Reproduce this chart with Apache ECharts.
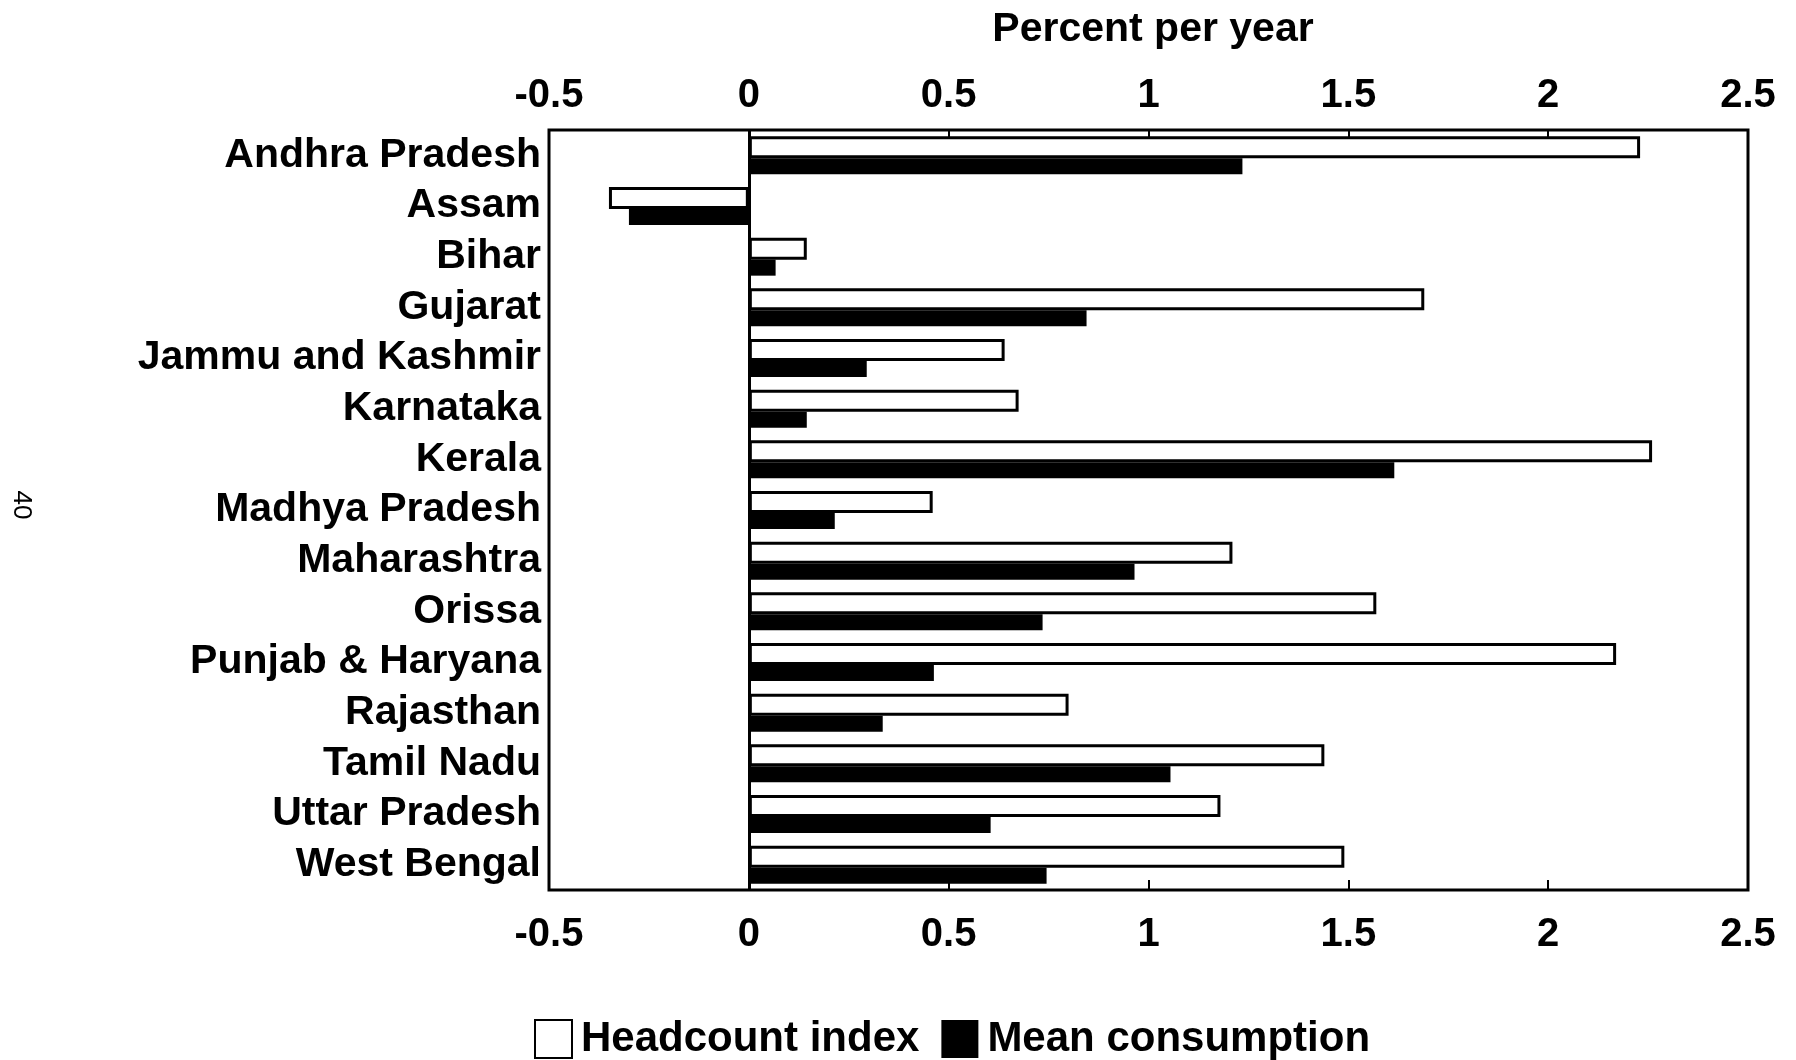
<!DOCTYPE html>
<html>
<head>
<meta charset="utf-8">
<script src="https://cdn.jsdelivr.net/npm/echarts@6/dist/echarts.min.js"></script>
<style>
html,body{margin:0;padding:0;background:#fff;}
#chart{width:1796px;height:1060px;}
</style>
</head>
<body>
<div id="chart"></div>
<script>
const categories = ['Andhra Pradesh','Assam','Bihar','Gujarat','Jammu and Kashmir','Karnataka','Kerala','Madhya Pradesh','Maharashtra','Orissa','Punjab & Haryana','Rajasthan','Tamil Nadu','Uttar Pradesh','West Bengal'];
const headcountIndex = [2.23, -0.35, 0.145, 1.69, 0.64, 0.675, 2.26, 0.46, 1.21, 1.57, 2.17, 0.80, 1.44, 1.18, 1.49];
const meanConsumption = [1.235, -0.30, 0.067, 0.845, 0.295, 0.145, 1.615, 0.215, 0.965, 0.735, 0.463, 0.335, 1.055, 0.605, 0.745];
const seriesNames = ['Headcount index', 'Mean consumption'];
const axisTitle = 'Percent per year';
const pageNumber = '40';

const FONT = "'Liberation Sans', Arial, Helvetica, sans-serif";
const chart = echarts.init(document.getElementById('chart'), null, {renderer: 'canvas'});

const valueAxisBase = {
  type: 'value',
  min: -0.5,
  max: 2.5,
  interval: 0.5,
  axisLine: {show: false},
  splitLine: {show: false},
  axisTick: {show: true, inside: true, length: 10, lineStyle: {color: '#000', width: 2}},
  axisLabel: {
    color: '#000', fontFamily: FONT, fontSize: 40, fontWeight: 'bold',
    formatter: v => String(Math.round(v * 10) / 10)
  }
};

chart.setOption({
  animation: false,
  backgroundColor: '#fff',
  title: {
    text: axisTitle,
    left: 1148,
    top: 4,
    textAlign: 'center',
    textStyle: {color: '#000', fontFamily: FONT, fontSize: 41, fontWeight: 'bold'}
  },
  grid: {
    left: 549, right: 48, top: 130, bottom: 170,
    show: true, borderColor: '#000', borderWidth: 3, backgroundColor: 'transparent'
  },
  legend: {
    data: seriesNames,
    left: 529,
    top: 1013,
    icon: 'rect',
    itemWidth: 37,
    itemHeight: 38,
    itemGap: 22,
    textStyle: {color: '#000', fontFamily: FONT, fontSize: 42, fontWeight: 'bold', padding: [0, 0, 0, 4]}
  },
  xAxis: [
    Object.assign({}, valueAxisBase, {position: 'bottom', axisLabel: Object.assign({}, valueAxisBase.axisLabel, {margin: 25})}),
    Object.assign({}, valueAxisBase, {position: 'top', axisLabel: Object.assign({}, valueAxisBase.axisLabel, {margin: 14})})
  ],
  yAxis: {
    type: 'category',
    data: categories,
    inverse: true,
    axisLine: {show: false, onZero: false},
    axisTick: {show: false},
    splitLine: {show: false},
    axisLabel: {color: '#000', fontFamily: FONT, fontSize: 41, fontWeight: 'bold', margin: 8, interval: 0}
  },
  graphic: [{
    type: 'text',
    x: 21,
    y: 505,
    rotation: -Math.PI / 2,
    style: {text: pageNumber, fill: '#000', font: '26px ' + FONT, textAlign: 'center', textVerticalAlign: 'middle'}
  }],
  series: [
    {
      name: seriesNames[0],
      type: 'bar',
      xAxisIndex: 0,
      data: headcountIndex,
      barWidth: 22,
      barGap: '0%',
      itemStyle: {color: '#fff', borderColor: '#000', borderWidth: 3},
      z: 3
    },
    {
      name: seriesNames[1],
      type: 'bar',
      xAxisIndex: 0,
      data: meanConsumption,
      barWidth: 16,
      barGap: '0%',
      itemStyle: {color: '#000'},
      z: 2,
      markLine: {
        silent: true,
        symbol: ['none', 'none'],
        label: {show: false},
        lineStyle: {color: '#000', width: 3, type: 'solid'},
        data: [{xAxis: 0}]
      }
    }
  ]
});
</script>
</body>
</html>
